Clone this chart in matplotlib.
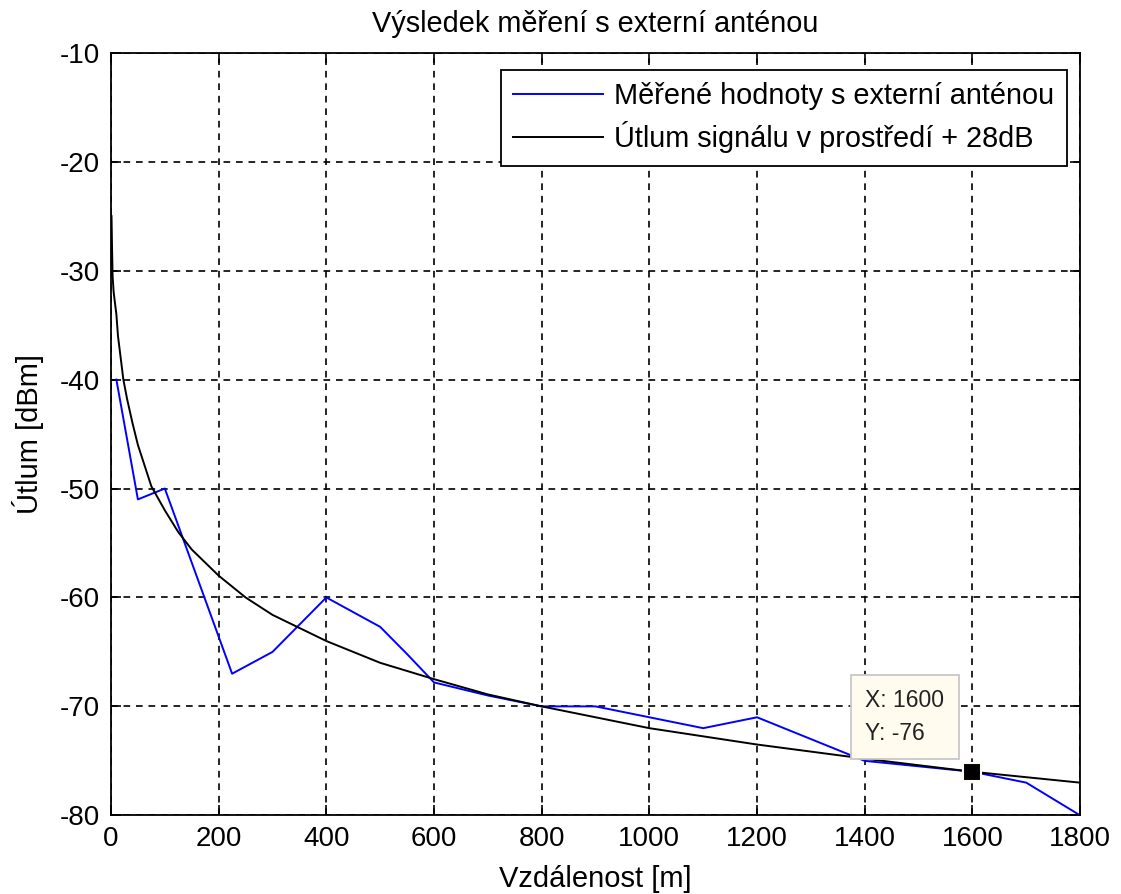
import matplotlib
matplotlib.use('Agg')
import matplotlib.pyplot as plt

plt.rcParams['font.family'] = ['Liberation Sans', 'DejaVu Sans']
plt.rcParams['axes.unicode_minus'] = False

# measured values (blue)
dist_meas = [10, 50, 100, 225, 300, 400, 500, 550, 600, 700, 800, 900, 1000, 1100, 1200, 1400, 1500, 1600, 1700, 1800]
att_meas = [-40, -51, -50, -67, -65, -60, -62.7, -65.2, -67.8, -69, -70, -70, -71, -72, -71, -75, -75.5, -76, -77, -80]

# path loss model + 28dB (black)
dist_model = [1, 2, 3, 5, 10, 13, 18, 23, 30, 40, 50, 75, 100, 125, 150, 200, 250, 300, 400, 500, 600,
              700, 800, 1000, 1200, 1400, 1600, 1800]
att_model = [-25, -28, -30.5, -32, -34, -36, -38, -40, -41.8, -44, -46, -49.8, -52, -54, -55.6, -58,
             -60, -61.6, -64, -66, -67.5, -68.9, -70, -72, -73.5, -74.8, -76, -77]

xticks = [0, 200, 400, 600, 800, 1000, 1200, 1400, 1600, 1800]
yticks = [-80, -70, -60, -50, -40, -30, -20, -10]

tip_x = 1600
tip_y = -76

fig = plt.figure(figsize=(11.21, 8.94), dpi=100)
ax = fig.add_axes([0.099, 0.088, 0.8645, 0.853])

ax.plot(dist_meas, att_meas, color='#0000ff', lw=1.4, label='Měřené hodnoty s externí anténou')
ax.plot(dist_model, att_model, color='black', lw=1.4, label='Útlum signálu v prostředí + 28dB')

ax.set_xlim(0, 1800)
ax.set_ylim(-80, -10)
ax.set_xticks(xticks)
ax.set_yticks(yticks)
ax.tick_params(direction='in', top=True, right=True, length=7, width=1.2, labelsize=20, pad=8)
ax.grid(True, color='black', linestyle=(0, (4, 3.5)), linewidth=1.2)
for s in ax.spines.values():
    s.set_linewidth(1.3)

ax.set_title('Výsledek měření s externí anténou', fontsize=20.8, pad=15)
ax.set_xlabel('Vzdálenost [m]', fontsize=21, labelpad=9)
ax.set_ylabel('Útlum [dBm]', fontsize=21, labelpad=11)

leg = ax.legend(loc='upper right', bbox_to_anchor=(0.986, 0.977), fontsize=20.8, fancybox=False,
                framealpha=1, edgecolor='black', handlelength=3.1, handletextpad=0.4,
                borderpad=0.42, labelspacing=0.38, borderaxespad=0)
leg.get_frame().set_linewidth(1.3)

# data tip
ax.plot([tip_x], [tip_y], marker='s', ms=13, mfc='black', mec='#fffbef', mew=1.5, zorder=5)
ax.annotate(f'X: {tip_x}\nY: {tip_y}', xy=(tip_x, tip_y), xytext=(-107, 83), textcoords='offset pixels',
            ha='left', va='top', fontsize=16.5, color='#222222', linespacing=1.55, zorder=6,
            bbox=dict(boxstyle='square,pad=0.62', fc='#fffbef', ec='#c8c8c8', lw=1.3))

fig.savefig('out.png', dpi=100)
